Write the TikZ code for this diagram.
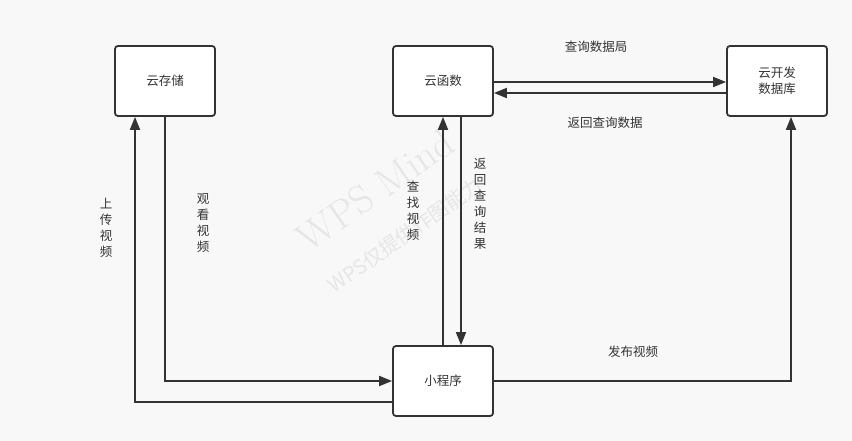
\documentclass[tikz,border=0pt]{standalone}
\usepackage{fontspec}
\newfontfamily\cjk{Noto Sans CJK SC}
\usetikzlibrary{arrows.meta}
\definecolor{bgcol}{HTML}{F8F8F8}
\definecolor{ink}{HTML}{333333}
\definecolor{wm}{HTML}{E6E6E6}
\begin{document}
\begin{tikzpicture}[x=1pt,y=-1pt,
  box/.style={draw=ink,line width=1.8pt,rounded corners=3pt,fill=white,
    minimum width=100pt,minimum height=70pt,inner sep=0pt,align=center,
    text=ink,font=\cjk\fontsize{12.5}{16}\selectfont},
  lbl/.style={text=ink,align=center,inner sep=0pt,font=\cjk\fontsize{12.5}{16}\selectfont},
  arr/.style={draw=ink,line width=1.8pt,-{Triangle[length=13pt,width=10pt]}},
  ln/.style={draw=ink,line width=1.8pt}]
\fill[bgcol] (0,0) rectangle (852,441);
\useasboundingbox (0,0) rectangle (852,441);
% watermark
\node[text=wm,rotate=35,font=\fontsize{40}{40}\selectfont] (wm1) at (375,190) {WPS Mind};
\node[text=wm,rotate=35,font=\cjk\fontsize{20}{20}\selectfont] (wm2) at (405,235) {WPS仅提供作图能力};
% boxes
\node[box] (cs) at (165,81) {云存储};
\node[box] (hs) at (443,81) {云函数};
\node[box] (db) at (777,81) {云开发\\数据库};
\node[box] (xcx) at (443,381) {小程序};
% connectors
\draw[arr] ([yshift=-1pt]hs.east) -- ([yshift=-1pt]db.west);
\draw[arr] ([yshift=-12pt]db.west) -- ([yshift=-12pt]hs.east);
\draw[arr] (xcx.north) -- (hs.south);
\draw[arr] ([xshift=18pt]hs.south) -- ([xshift=18pt]xcx.north);
\draw[arr] (cs.south) |- (xcx.west);
\draw[arr] ([yshift=-21pt]xcx.west) -| ([xshift=-30pt]cs.south);
\draw[arr] (xcx.east) -| ([xshift=14pt]db.south);
% labels
\node[lbl] (l1) at (596,47) {查询数据局};
\node[lbl] (l2) at (605,123) {返回查询数据};
\node[lbl] (l3) at (633,352) {发布视频};
\node[lbl] (l4) at (106,228) {上\\传\\视\\频};
\node[lbl] (l5) at (203,223) {观\\看\\视\\频};
\node[lbl] (l6) at (413,211) {查\\找\\视\\频};
\node[lbl] (l7) at (480,204) {返\\回\\查\\询\\结\\果};
\end{tikzpicture}
\end{document}
